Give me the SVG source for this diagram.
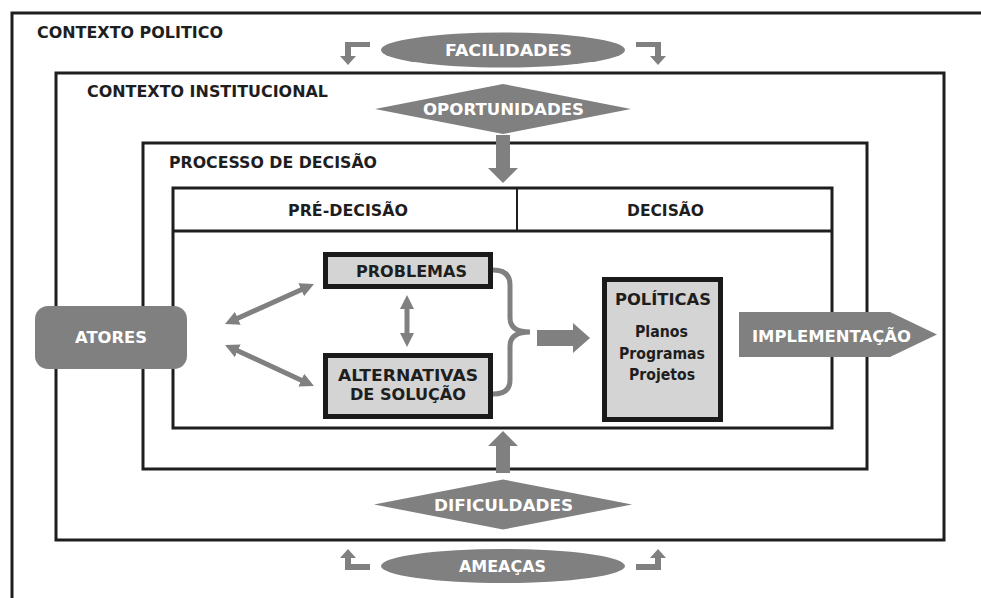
<svg xmlns="http://www.w3.org/2000/svg" width="981" height="598" viewBox="0 0 981 598">
<defs>
<style>
.frame{fill:none;stroke:#1e1e1e;stroke-width:3}
.gray{fill:#808080}
.box{fill:#d4d4d4;stroke:#1a1a1a;stroke-width:5}
.ln{fill:none;stroke:#808080;stroke-width:5}
text{font-family:"DejaVu Sans","Liberation Sans",sans-serif;font-weight:bold}
.t{fill:#1e1e1e;font-size:15px}
.h{fill:#1e1e1e;font-size:15px;text-anchor:middle}
.b{fill:#1e1e1e;font-size:16px;text-anchor:middle}
.w{fill:#ffffff;font-size:16px;text-anchor:middle}
.p{fill:#1e1e1e;font-size:15px;text-anchor:middle}
</style>
<marker id="ah" markerUnits="userSpaceOnUse" markerWidth="16" markerHeight="14" refX="6" refY="7" orient="auto-start-reverse">
<path d="M0,0 L14,7 L0,14 Z" fill="#808080"/>
</marker>
</defs>
<rect width="981" height="598" fill="#ffffff"/>

<g id="contexto-politico">
<path class="frame" d="M12,598 V13 H981"/>
<text class="t" x="37" y="37.5" textLength="186" lengthAdjust="spacingAndGlyphs">CONTEXTO POLITICO</text>
</g>
<g id="contexto-institucional">
<rect class="frame" x="56" y="73" width="888" height="467"/>
<text class="t" x="87" y="96.5" textLength="241" lengthAdjust="spacingAndGlyphs">CONTEXTO INSTITUCIONAL</text>
</g>
<g id="processo-decisao">
<rect class="frame" x="143" y="143" width="724" height="326"/>
<text class="t" x="169" y="167.5" textLength="208" lengthAdjust="spacingAndGlyphs">PROCESSO DE DECISÃO</text>
</g>
<g id="tabela">
<rect class="frame" x="173" y="188" width="659" height="240"/>
<line x1="173" y1="231" x2="832" y2="231" stroke="#1e1e1e" stroke-width="3"/>
<line x1="517" y1="188" x2="517" y2="231" stroke="#1e1e1e" stroke-width="2"/>
<text class="h" x="348" y="216" textLength="120" lengthAdjust="spacingAndGlyphs">PRÉ-DECISÃO</text>
<text class="h" x="665.5" y="216" textLength="77" lengthAdjust="spacingAndGlyphs">DECISÃO</text>
</g>

<g id="connectors">
<path class="gray" d="M370,42 H345 V56 H340 L348,65 L356,56 H351 V47 H370 Z"/>
<path class="gray" d="M636,42 H661 V56 H666 L658,65 L650,56 H655 V47 H636 Z"/>
<path class="gray" d="M370,570 H345 V558 H340 L348,549 L356,558 H351 V564 H370 Z"/>
<path class="gray" d="M636,570 H661 V558 H666 L658,549 L650,558 H655 V564 H636 Z"/>
<path class="gray" d="M496,135 H510 V168 H518 L503,183 L488,168 H496 Z"/>
<path class="gray" d="M496,473 V446 H488 L503,431 L518,446 H510 V473 Z"/>
<line class="ln" x1="232.3" y1="320.7" x2="306.7" y2="287.3" marker-start="url(#ah)" marker-end="url(#ah)"/>
<line class="ln" x1="232.3" y1="348.3" x2="306.7" y2="382.7" marker-start="url(#ah)" marker-end="url(#ah)"/>
<line class="ln" x1="407" y1="303" x2="407" y2="339" marker-start="url(#ah)" marker-end="url(#ah)"/>
<path class="ln" d="M493,270 Q510,270 510,285 V318 Q510,332 530,332 Q510,332 510,346 V380 Q510,394 493,394"/>
<path class="gray" d="M537,330 H573 V323 L590,338 L573,353 V346 H537 Z"/>
</g>

<g id="facilidades">
<ellipse class="gray" cx="503" cy="50" rx="122" ry="17.5"/>
<text class="w" x="508.5" y="56" textLength="127" lengthAdjust="spacingAndGlyphs">FACILIDADES</text>
</g>
<g id="oportunidades">
<polygon class="gray" points="375,109 503,84 631,109 503,134"/>
<text class="w" x="503.5" y="115" textLength="161" lengthAdjust="spacingAndGlyphs">OPORTUNIDADES</text>
</g>
<g id="dificuldades">
<polygon class="gray" points="374,504.5 503,479.5 632,504.5 503,529.5"/>
<text class="w" x="503.5" y="511" textLength="139" lengthAdjust="spacingAndGlyphs">DIFICULDADES</text>
</g>
<g id="ameacas">
<ellipse class="gray" cx="503" cy="566" rx="122" ry="17"/>
<text class="w" x="502.5" y="572" textLength="87" lengthAdjust="spacingAndGlyphs">AMEAÇAS</text>
</g>
<g id="atores">
<rect class="gray" x="35" y="306" width="152" height="63" rx="13"/>
<text class="w" x="111" y="343" font-size="16" textLength="72" lengthAdjust="spacingAndGlyphs">ATORES</text>
</g>
<g id="problemas">
<rect class="box" x="325.5" y="254.5" width="165" height="32"/>
<text class="b" x="411.5" y="277" textLength="111" lengthAdjust="spacingAndGlyphs">PROBLEMAS</text>
</g>
<g id="alternativas">
<rect class="box" x="325.5" y="355.5" width="165" height="61"/>
<text class="b" x="408" y="381" textLength="140" lengthAdjust="spacingAndGlyphs">ALTERNATIVAS</text>
<text class="b" x="408" y="400" textLength="116" lengthAdjust="spacingAndGlyphs">DE SOLUÇÃO</text>
</g>
<g id="politicas">
<rect class="box" x="604.5" y="279.5" width="116" height="140"/>
<text class="b" x="663" y="305" textLength="96" lengthAdjust="spacingAndGlyphs">POLÍTICAS</text>
<text class="p" x="661.5" y="337" textLength="53" lengthAdjust="spacingAndGlyphs">Planos</text>
<text class="p" x="662" y="359" textLength="86" lengthAdjust="spacingAndGlyphs">Programas</text>
<text class="p" x="662" y="380" textLength="66" lengthAdjust="spacingAndGlyphs">Projetos</text>
</g>
<g id="implementacao">
<polygon class="gray" points="739,312 890,312 937,334.5 890,357 739,357"/>
<text class="w" x="831.5" y="342" font-size="16" textLength="159" lengthAdjust="spacingAndGlyphs">IMPLEMENTAÇÃO</text>
</g>
</svg>
